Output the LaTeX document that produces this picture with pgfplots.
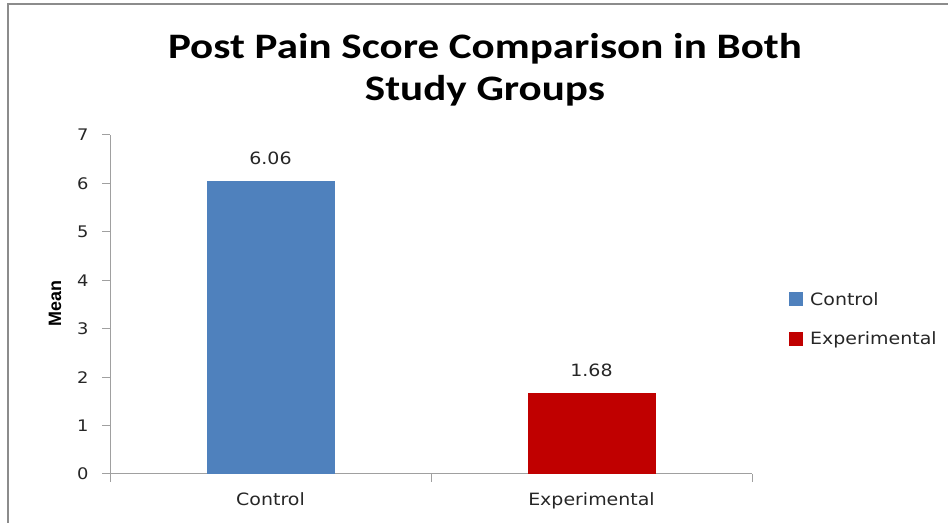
\documentclass[border=0pt]{standalone}
\usepackage{pgfplots}
\pgfplotsset{compat=1.18}
\usepackage{fontspec}
\setmainfont{DejaVu Sans}[FakeStretch=1.12]
\newfontfamily\titlefont{Carlito}[FakeStretch=1.2]
\newfontfamily\labelfont{Liberation Sans}
\definecolor{ctrl}{HTML}{4F81BD}
\definecolor{expt}{HTML}{C00000}
\definecolor{axisgray}{HTML}{A0A0A0}
\definecolor{txt}{HTML}{262626}
\begin{document}
\begin{tikzpicture}
\path[use as bounding box] (0,0) rectangle (948bp,523bp);
\draw[line width=2bp, color=gray!90] (8bp,-2bp) -- (8bp,519bp) -- (952bp,519bp);
\begin{axis}[
  at={(110bp,49bp)}, anchor=south west,
  scale only axis, width=642bp, height=339bp,
  xmin=-0.5, xmax=1.5, ymin=0, ymax=7,
  axis lines*=left,
  axis line style={axisgray, line width=1bp},
  ytick={0,1,2,3,4,5,6,7},
  xtick={0,1}, xticklabels={Control,Experimental},
  minor xtick={-0.5,0.5,1.5},
  tick align=outside, major tick length=8bp, minor tick length=8bp,
  tick style={axisgray, line width=1bp},
  major x tick style={draw=none},
  ybar, bar width=128bp, bar shift=0pt,
  /pgf/number format/assume math mode=true,
  nodes near coords,
  every node near coord/.append style={font=\fontsize{17}{20}\selectfont, text=txt, anchor=center, yshift=22bp},
  ticklabel style={text=txt},
  yticklabel style={font=\fontsize{16}{19}\selectfont, xshift=-10bp},
  xticklabel style={font=\fontsize{17}{20}\selectfont, yshift=-7bp},
  legend style={at={(axis description cs:1.0576,0.457)}, anchor=west, draw=none, fill=none,
    font=\fontsize{17}{20}\selectfont, text=txt, row sep=21bp, column sep=5bp, inner sep=0pt},
  legend image code/.code={\fill[#1] (0bp,-7bp) rectangle (14bp,7bp);},
  legend cell align=left,
  title={Post Pain Score Comparison in Both\\Study Groups},
  title style={at={(axis description cs:0.584,1.174)}, anchor=center, align=center,
    font=\titlefont\bfseries\fontsize{36}{42}\selectfont},
  ylabel={Mean},
  ylabel style={at={(axis description cs:-0.0857,0.504)}, anchor=center,
    font=\labelfont\bfseries\fontsize{18}{20}\selectfont},
]
\addplot[fill=ctrl, draw=none] coordinates {(0,6.06)};
\addplot[fill=expt, draw=none] coordinates {(1,1.68)};
\legend{Control,Experimental}
\end{axis}
\end{tikzpicture}
\end{document}
